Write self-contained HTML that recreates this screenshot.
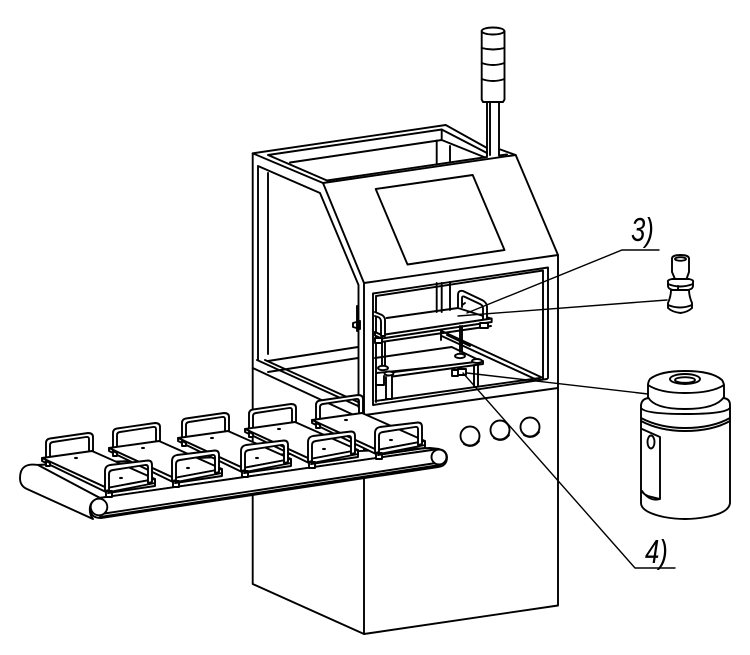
<!DOCTYPE html>
<html><head><meta charset="utf-8"><style>
html,body{margin:0;padding:0;background:#fff;width:750px;height:655px;overflow:hidden}
svg{display:block}
.l{fill:none;stroke:#000;stroke-width:1.9;stroke-linejoin:round;stroke-linecap:round}
.w{fill:#fff;stroke:#000;stroke-width:1.9;stroke-linejoin:round;stroke-linecap:round}
.t{fill:none;stroke:#000;stroke-width:1.4;stroke-linecap:round}
text{font-family:"Liberation Sans",sans-serif;font-style:italic;font-size:33px;fill:#000}
</style></head><body>
<svg width="750" height="655" viewBox="0 0 750 655" xmlns="http://www.w3.org/2000/svg">
<defs>
<g id="h1">
<path class="w" d="M46 458V443Q46 439 50 438.500L88 433Q93 433 93 437V454L89 453V439Q89 436.500 86 437L53 442Q50 442.500 50 445V458Z"/>
</g>
<g id="pallet">
<use href="#h1"/>
<path class="w" d="M42 458L92 451L155 479L107 488Z"/>
<path class="w" d="M42 458L107 488L155 479L155 483L107 492.500L42 461Z"/>
<path class="w" d="M46 461V466H50V463ZM106 491V497H112V491Z"/>
<path class="w" d="M105 491V471Q105 466 110 465L148 460.500Q152 460.500 152 465V482L148 483V467Q148 464.500 145 465L113 470Q109 470.500 109 474V490Z"/>
<ellipse cx="76" cy="458" rx="2" ry="1.100" fill="#000"/>
<ellipse cx="121" cy="478" rx="2" ry="1.100" fill="#000"/>
<path class="l" d="M108 493L155 486V481"/>
</g>
</defs>

<!-- beacon -->
<path class="w" d="M487 100V156M499 100V155"/>
<path class="l" d="M490 102V155"/>
<path class="w" d="M481.700 31V99.500L483 102H503L504.500 99.500V31"/>
<ellipse class="w" cx="493" cy="31" rx="11.300" ry="3.500"/>
<path class="l" d="M481.700 48Q493 51 504.500 48M481.700 63Q493 67 504.500 63M481.700 79Q493 83 504.500 79"/>

<!-- top frame -->
<path class="l" d="M252.700 153.300L445.700 125L487 148M499 149L515.700 155L323 183L252.700 153.300"/>
<path class="l" d="M268 155L441.700 129.500L487 153M327 180.500L487 157M499 155.500L507 154.500M268 155L327 180.500"/>
<path class="l" d="M290 162.500L441.700 140M441.700 129.500V140M436.700 140.500V163M441.700 140L484 157M450 146V161"/>

<!-- left frame -->
<path class="l" d="M252.700 153.300V584L364 634L558 605.500V255L515.700 155"/>
<path class="l" d="M258 166V360M268 173V354M258 166L320 193L358.500 285V407M323 183L364 283V415"/>
<path class="l" d="M364 415V634"/>

<!-- screen -->
<path class="l" d="M375.700 189L472.700 175L504.500 250L407.500 264.500Z"/>

<!-- front window -->
<path class="l" d="M364 283L558 255"/>
<path class="l" d="M373 293.500L548 267.500V378M373 293.500V405L547 379M376 296L543 270.500V379M376 296V402M375.500 401L540 378"/>
<path class="l" d="M365 415L558 388"/>

<!-- back rails -->
<path class="l" d="M436.700 283V312M441.700 283V312M450 282V310"/>
<path class="l" d="M257 360L358 406M265 360L358 402M252.700 368L358 417"/>
<path class="l" d="M268 361L358 347M268 372L358 358"/>
<path class="l" d="M441.700 331L543 378M441.700 336L535 379M447 335L470 346"/>

<!-- upper plate -->
<path class="l" d="M386.700 318L458 308L491 318.500M458 308L465 303"/>
<path class="w" d="M458 308V295Q458 290 463 291L483 300.500Q487 303 487 307V327H483V308Q483 305.500 480 304L464 296.500Q462 296 462 298V307"/>
<path class="w" d="M381.700 335L491.700 318.500V322L381.700 338.500L375 335.500L375 332Z"/>
<path class="l" d="M375 332L381.700 335V338M381 342L491 326"/>
<path class="w" d="M480 323H488V328H480Z"/>
<path class="w" d="M375 312L382 315Q385 317 385 320V336H381V322Q381 318 378 317L375 316"/>
<path class="w" d="M375 338V343H382V338Z"/>
<path class="l" d="M357 306V331M353 323L360 321V329L353 327Z"/>
<path class="l" d="M382 342V368M385 342V368M460 326V352M462 326V352M441 331V340"/>

<!-- lower plate -->
<path class="l" d="M375 358L451.700 347L483 362L376.700 373"/>
<path class="w" d="M386 373L483 361V364L389 377Z"/>
<ellipse class="w" cx="383" cy="368" rx="5" ry="2.200"/>
<ellipse class="w" cx="389" cy="373.500" rx="4.500" ry="2"/>
<ellipse class="w" cx="460" cy="356" rx="5" ry="2.200"/>
<ellipse class="w" cx="477" cy="361" rx="5" ry="2"/>
<path class="w" d="M376 376V385H384V376M386 377V399H392V376"/>
<path class="w" d="M452 370H458V376H452ZM458 369H466V375H458Z"/>
<path class="l" d="M474 365V386M478 364V386"/>

<!-- buttons -->
<circle class="w" cx="470" cy="436" r="9.500"/>
<path class="l" d="M464 444Q473 449 479 441"/>
<circle class="w" cx="500" cy="430" r="9.500"/>
<path class="l" d="M494 438Q503 443 509 435"/>
<circle class="w" cx="530" cy="427" r="9.500"/>
<path class="l" d="M524 435Q533 440 539 432"/>

<!-- conveyor -->
<path class="w" d="M36 465L430 448L439 449L100 498Z" stroke="none"/>
<path class="w" d="M99 498L432 450Q446 447 447 457Q447 466 438 467L101 518Q90 518 90 508Q90 499 99 498Z"/>
<path class="w" d="M38 465Q20 462 20 478Q20 486 27 489L93 519Q89 514 90 507Q91 500 100 498Z"/>
<path class="l" d="M100 517L440 465M98 514.500L436 463"/>
<circle class="w" cx="99" cy="507" r="8.300"/>
<circle class="w" cx="439" cy="457" r="7.500"/>

<!-- pallets -->
<use href="#pallet" x="270" y="-38"/>
<use href="#pallet" x="203" y="-29"/>
<use href="#pallet" x="136" y="-20"/>
<use href="#pallet" x="67" y="-10"/>
<use href="#pallet"/>

<!-- stud -->
<path class="w" d="M672 258Q673 255 680.500 255Q688 255 689 258V272L686.500 279H675L672 272Z"/>
<ellipse class="l" cx="680.500" cy="259" rx="5.500" ry="1.800"/>
<path class="w" d="M668 282Q667 280 672 279H689Q694 280 693 282V286Q693 289 688 290H673Q668 289 668 286Z"/>
<path class="l" d="M668 284Q680 289 693 284M678 286V290"/>
<path class="w" d="M671 290H689Q689 296 692 303V308Q688 312 680.500 313Q672 312 668 308V303Q671 296 671 290Z"/>
<path class="l" d="M668 305Q680 310 692 305"/>

<!-- holder -->
<path class="w" d="M641 405Q642 398 650 398L722 398Q730 398 730 405V503Q729 513 706 517Q685 521 664 517Q641 512 641 503Z"/>
<path class="l" d="M641 408Q645 414 685 414Q725 414 730 408M641 418Q660 428 685 428Q712 428 730 418M641 421Q660 431 685 431Q712 431 730 421"/>
<path class="w" d="M648 397V385Q648 382 650 379Q660 371 685 371Q712 371 722 380Q724 383 724 386V397Q716 409 685 409Q654 409 648 397Z"/>
<path class="l" d="M648 385Q660 393 685 393Q712 393 724 385"/>
<ellipse class="l" cx="685" cy="379" rx="15" ry="5"/>
<ellipse class="l" cx="685" cy="380" rx="10" ry="2.800"/>
<path class="l" d="M642 429L660 437V499L648 496Q643 494 642 491M660 499Q650 502 642 491"/>
<ellipse class="l" cx="651" cy="442" rx="3.500" ry="6.500"/>

<!-- leaders -->
<path class="t" d="M659 250H622L467 313M667 300L458 316M648 394L467 373M635 568H675M635 568L463 373"/>
<text x="0" y="0" transform="translate(631 241) scale(.78 1)">3)</text>
<text x="0" y="0" transform="translate(645 563) scale(.78 1)">4)</text>
</svg>
</body></html>
